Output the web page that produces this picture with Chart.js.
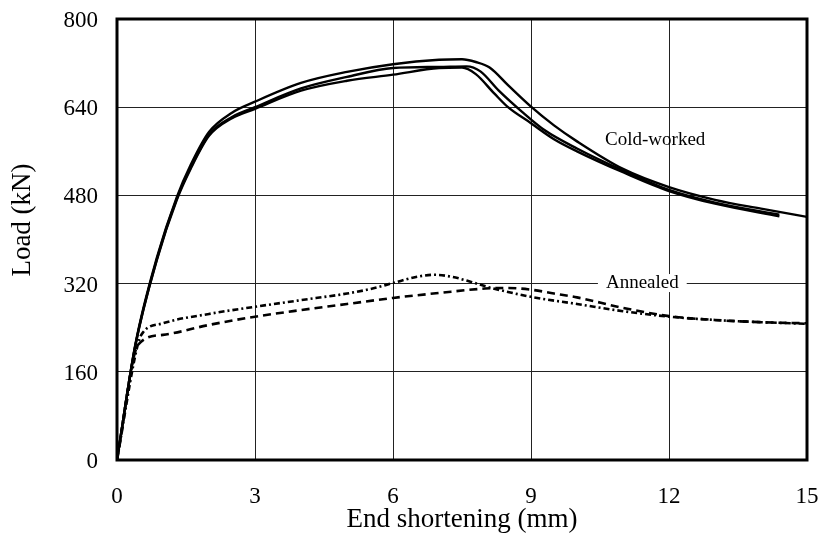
<!DOCTYPE html>
<html lang="en">
<head>
<meta charset="UTF-8">
<title>Load vs end shortening</title>
<script src="https://cdn.jsdelivr.net/npm/chart.js"></script>
<style>
body {
margin: 0;
background: #fff;
}
.wrap {
width: 820px;
height: 538px;
}
</style>
</head>
<body>
<div class="wrap"><canvas id="loadChart"></canvas></div>

<script>
// axis ticks
const xTicks = [0, 3, 6, 9, 12, 15];
const yTicks = [0, 160, 320, 480, 640, 800];

// cold-worked specimens (mm, kN)
const cw1X = [0, 0.4, 0.87, 1.3, 1.6, 2.0, 2.5, 3.0, 4.0, 5.0, 6.0, 7.0, 7.5, 7.8, 8.1, 8.5, 9.0, 9.5, 10.0, 11.0, 12.0, 13.0, 14.0, 15.0];
const cw1Y = [0, 210, 368, 477, 535, 595, 630, 650, 684, 704, 718, 726, 727, 722, 712, 680, 641, 607, 578, 528, 495, 472, 456, 441];

const cw2X = [0, 0.4, 0.87, 1.3, 1.6, 2.0, 2.5, 3.0, 4.0, 5.0, 6.0, 7.0, 7.6, 7.9, 8.3, 8.8, 9.3, 10.0, 11.0, 12.0, 13.0, 14.4];
const cw2Y = [0, 208, 365, 474, 530, 590, 622, 640, 674, 695, 711, 713, 714, 705, 670, 632, 598, 565, 525, 490, 467, 445];

const cw3X = [0, 0.4, 0.87, 1.3, 1.6, 2.0, 2.5, 3.0, 4.0, 5.0, 6.0, 7.0, 7.5, 7.8, 8.2, 8.5, 9.0, 9.5, 10.0, 11.0, 12.0, 13.0, 14.4];
const cw3Y = [0, 208, 364, 472, 528, 588, 620, 637, 670, 688, 699, 711, 712, 700, 665, 640, 611, 582, 560, 522, 488, 465, 442];

// annealed specimens
const an1X = [0, 0.46, 0.57, 1.0, 2.0, 3.0, 4.0, 5.0, 5.5, 6.0, 6.5, 6.9, 7.3, 7.7, 8.1, 9.0, 10.0, 11.0, 12.0, 13.0, 14.0, 15.0];
const an1Y = [0, 212, 232, 248, 265, 278, 290, 302, 310, 321, 332, 336, 332, 323, 313, 296, 283, 270, 260, 254, 250, 247];

const an2X = [0, 0.46, 1.0, 2.0, 3.0, 4.0, 5.0, 6.0, 7.0, 8.0, 8.5, 9.0, 9.5, 10.0, 11.0, 12.0, 13.0, 14.0, 15.0];
const an2Y = [0, 209, 227, 245, 260, 272, 283, 294, 303, 311, 312, 309, 302, 295, 276, 261, 254, 250, 248];

const serif = 'Liberation Serif, Times New Roman, serif';

const pts = (xs, ys) => xs.map((x, i) => ({ x: x, y: ys[i] }));

const solid = (xs, ys) => ({
data: pts(xs, ys),
borderColor: '#000',
borderWidth: 2.4,
pointRadius: 0,
fill: false,
cubicInterpolationMode: 'monotone'
});

const dashed = (xs, ys, dash) => ({
data: pts(xs, ys),
borderColor: '#000',
borderWidth: 2.6,
borderDash: dash,
pointRadius: 0,
fill: false,
cubicInterpolationMode: 'monotone'
});

// keep tick labels from pushing the plot area inwards
const noOverhang = s => {
s.paddingLeft = 0;
s.paddingRight = 0;
s.paddingTop = 0;
s.paddingBottom = 0;
};

// frame round the plot, the y title and the two curve labels
const extras = {
id: 'extras',
afterDatasetsDraw(chart) {
const ctx = chart.ctx;
const xs = chart.scales.x;
const ys = chart.scales.y;
const a = chart.chartArea;
ctx.save();
ctx.textAlign = 'center';
ctx.textBaseline = 'middle';
ctx.fillStyle = '#000';

ctx.save();
ctx.font = '27px ' + serif;
ctx.translate(23, 220);
ctx.rotate(-Math.PI / 2);
ctx.fillText('Load (kN)', 0, 0);
ctx.restore();

ctx.font = '19px ' + serif;
ctx.fillText('Cold-worked', xs.getPixelForValue(11.7), ys.getPixelForValue(581));

const ax = xs.getPixelForValue(11.42);
const ay = ys.getPixelForValue(321);
const w = ctx.measureText('Annealed').width;
ctx.fillStyle = '#fff';
ctx.fillRect(ax - w / 2 - 8, ay - 9, w + 16, 18);
ctx.fillStyle = '#000';
ctx.fillText('Annealed', ax, ay);

ctx.lineWidth = 3;
ctx.strokeStyle = '#000';
ctx.strokeRect(a.left, a.top, a.right - a.left, a.bottom - a.top);
ctx.restore();
}
};

new Chart(document.getElementById('loadChart'), {
type: 'line',
data: {
datasets: [
solid(cw1X, cw1Y),
solid(cw2X, cw2Y),
solid(cw3X, cw3Y),
dashed(an1X, an1Y, [6, 3, 2, 3]),
dashed(an2X, an2Y, [8, 5])
]
},
options: {
responsive: true,
maintainAspectRatio: false,
animation: false,
layout: { padding: { top: 19, right: 13, left: 0, bottom: 0 } },
plugins: {
legend: { display: false },
tooltip: { enabled: false }
},
scales: {
x: {
type: 'linear',
min: 0,
max: 15,
afterBuildTicks: s => { s.ticks = xTicks.map(v => ({ value: v })); },
afterFit: s => { s.height = 78; noOverhang(s); },
ticks: { color: '#000', padding: 23, font: { family: serif, size: 23 } },
grid: { color: '#222', lineWidth: 1, drawTicks: false },
border: { display: false },
title: {
display: true,
text: 'End shortening (mm)',
color: '#000',
font: { family: serif, size: 27 },
padding: { top: 0, bottom: 2 }
}
},
y: {
min: 0,
max: 800,
afterBuildTicks: s => { s.ticks = yTicks.map(v => ({ value: v })); },
afterFit: s => { s.width = 117; noOverhang(s); },
ticks: { color: '#000', padding: 19, labelOffset: 2, font: { family: serif, size: 23 } },
grid: { color: '#222', lineWidth: 1, drawTicks: false },
border: { display: false },
title: { display: false }
}
}
},
plugins: [extras]
});
</script>
</body>
</html>
